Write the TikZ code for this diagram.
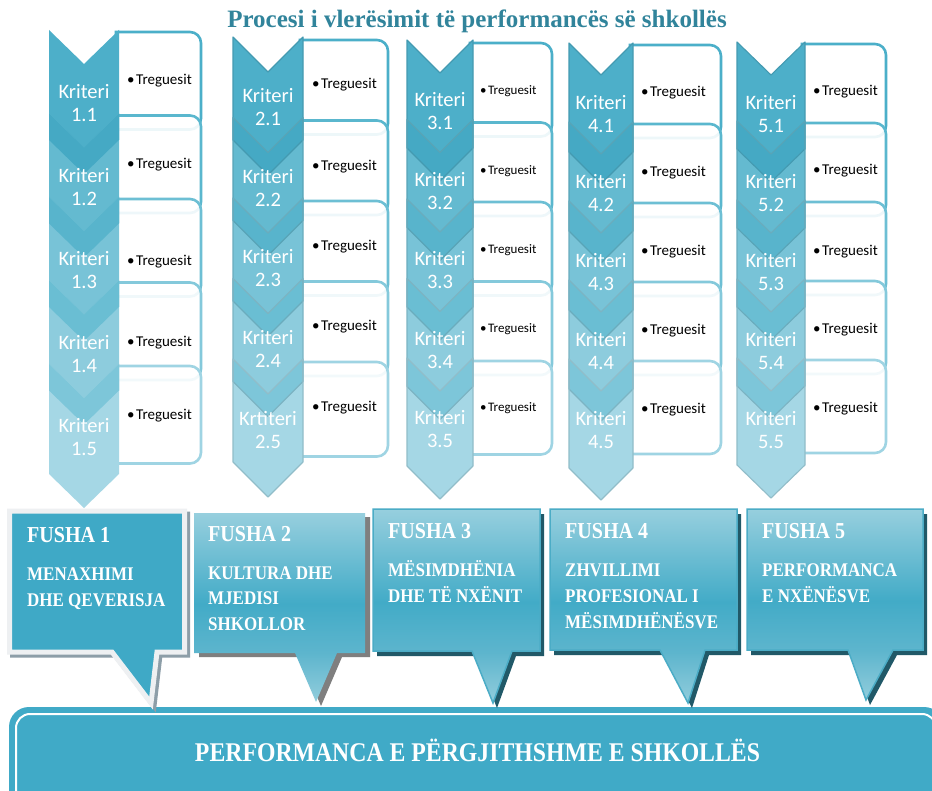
\documentclass[tikz,border=0pt]{standalone}
\usepackage{fontspec}
\setmainfont{Liberation Serif}
\newfontfamily\capsf{Liberation Serif}[FakeStretch=0.88]
\newfontfamily\calib{Carlito}
\definecolor{ch1}{HTML}{4DAFC9}
\definecolor{ch2}{HTML}{64BAD0}
\definecolor{ch3}{HTML}{78C3D7}
\definecolor{ch4}{HTML}{8DCCDD}
\definecolor{ch5}{HTML}{A5D7E5}
\definecolor{bd1}{HTML}{45A9C4}
\definecolor{bd2}{HTML}{58B4CC}
\definecolor{bd3}{HTML}{6ABED3}
\definecolor{bd4}{HTML}{7DC6D9}
\definecolor{bx1}{HTML}{4BAFC9}
\definecolor{bx2}{HTML}{5AB7CE}
\definecolor{bx3}{HTML}{6DBFD4}
\definecolor{bx4}{HTML}{84C9DB}
\definecolor{bx5}{HTML}{9FD4E3}
\definecolor{titlec}{HTML}{31849B}
\definecolor{barc}{HTML}{40AAC7}
\definecolor{fonefill}{HTML}{3FA9C6}
\definecolor{foneedge}{HTML}{EEF0F2}
\definecolor{foneshadow}{HTML}{8D9EA8}
\definecolor{ftwoshadow}{HTML}{7F7F7F}
\definecolor{fdshadow}{HTML}{215968}
\definecolor{fedge}{HTML}{4BACC6}
\definecolor{fshB}{HTML}{92CDDC}
\definecolor{fshL}{HTML}{5DB5CD}
\definecolor{fshM}{HTML}{42ABC7}
\definecolor{fshT}{HTML}{97CFDE}
\pgfdeclareverticalshading{fsh}{100bp}{color(0bp)=(fshB); color(25bp)=(fshB); color(38bp)=(fshL); color(51bp)=(fshM); color(75bp)=(fshT); color(100bp)=(fshT)}
\tikzset{
  kritext/.style={text=white, font=\calib\fontsize{20.5}{23}\selectfont, align=center, inner sep=0},
  tregtext/.style={text=black, anchor=west, inner sep=0},
  fushahead/.style={text=white, anchor=base west, inner sep=0, font=\capsf\bfseries\fontsize{22.8}{26}\selectfont},
  fushabody/.style={text=white, anchor=base west, inner sep=0, font=\capsf\bfseries\fontsize{19.3}{22}\selectfont},
  boxline/.style={line width=2.6, fill=white, fill opacity=0.9},
}
\newcommand\kcol[1]{%
  \pgfmathsetmacro\XC{\XL+\CW/2}%
  \pgfmathsetmacro\XB{\XL+\CW-3}%
  \pgfmathsetmacro\XE{\XL+\CW}%
  \pgfmathsetmacro\xa{\XR-11}%
  \foreach \i in {1,...,5}{%
    \pgfmathsetmacro\btop{\BT+(\i-1)*\CP}%
    \pgfmathsetmacro\bbot{\btop+\CP+14}%
    \pgfmathsetmacro\yb{\bbot-11}%
    \draw[boxline, draw=bx\i] (\XB,\btop) -- (\xa,\btop) arc[start angle=-90,end angle=0,radius=11] -- (\XR,\yb) arc[start angle=0,end angle=90,radius=11] -- (\XB,\bbot) -- cycle;
  }%
  \foreach \i in {1,...,5}{%
    \pgfmathsetmacro\ctop{\CT+(\i-1)*\CP}%
    \fill[ch\i] (\XL,\ctop) -- (\XC,\ctop+\CD) -- (\XE,\ctop) -- (\XE,\ctop+\CH) -- (\XC,\ctop+\CH+\CD) -- (\XL,\ctop+\CH) -- cycle;
  }%
  \foreach \i in {1,...,4}{%
    \pgfmathsetmacro\ctop{\CT+(\i-1)*\CP}%
    \fill[bd\i] (\XL,\ctop+\CP) -- (\XC,\ctop+\CP+\CD) -- (\XE,\ctop+\CP) -- (\XE,\ctop+\CH) -- (\XC,\ctop+\CH+\CD) -- (\XL,\ctop+\CH) -- cycle;
  }%
  \ifnum#1>1
  \foreach \i in {1,...,5}{%
    \pgfmathsetmacro\ctop{\CT+(\i-1)*\CP}%
    \draw[ch\i!88!black, line width=1.1, line join=round] (\XL,\ctop) -- (\XC,\ctop+\CD) -- (\XE,\ctop) -- (\XE,\ctop+\CH) -- (\XC,\ctop+\CH+\CD) -- (\XL,\ctop+\CH) -- cycle;
  }%
  \fi
  \foreach \i in {1,...,5}{%
    \pgfmathsetmacro\ky{\CT+(\i-1)*\CP+\KO}%
    \ifnum#1\i=25 \def\kword{Krtiteri}\else\def\kword{Kriteri}\fi
    \node[kritext] (k#1\i) at (\XC,\ky) {\kword\\#1.\i};
  }%
  \foreach \i/\ty in \TY {%
    \node[tregtext, font=\calib\fontsize{\TS}{\TS}\selectfont] (t#1\i) at (\TX,\ty) {•\kern1.5pt Treguesit};
  }%
}
\begin{document}
\begin{tikzpicture}[x=1pt,y=-1pt]
\useasboundingbox (0,0) rectangle (932,791);
\clip (0,0) rectangle (932,791);
\fill[white] (0,0) rectangle (932,791);
% title
\node[anchor=base, inner sep=0, text=titlec, font=\bfseries\fontsize{25}{28}\selectfont] (title) at (477,28) {Procesi i vlerësimit të performancës së shkollës};
% columns
\def\XL{49}\def\CW{70}\def\CT{30}\def\CP{83.5}\def\CH{110}\def\CD{34}\def\XR{201}\def\BT{32}\def\TX{127}\def\TS{15}\def\KO{73.5}\def\TY{1/81,2/165,3/262,4/343,5/416}
\kcol{1}
\def\XL{233}\def\CW{70}\def\CT{37}\def\CP{80.5}\def\CH{103}\def\CD{35}\def\XR{388}\def\BT{40}\def\TX{312}\def\TS{15}\def\KO{70.5}\def\TY{1/85,2/167,3/247,4/327,5/408}
\kcol{2}
\def\XL{407}\def\CW{66}\def\CT{40}\def\CP{79.5}\def\CH{108}\def\CD{33}\def\XR{552}\def\BT{43}\def\TX{480}\def\TS{13}\def\KO{71.5}\def\TY{1/91,2/171,3/250,4/329,5/408}
\kcol{3}
\def\XL{569}\def\CW{64}\def\CT{43}\def\CP{79}\def\CH{109}\def\CD{32}\def\XR{721}\def\BT{45}\def\TX{641}\def\TS{15}\def\KO{71}\def\TY{1/93,2/173,3/252,4/331,5/410}
\kcol{4}
\def\XL{737}\def\CW{68}\def\CT{42}\def\CP{79}\def\CH{107}\def\CD{33}\def\XR{886}\def\BT{44}\def\TX{813}\def\TS{15}\def\KO{72}\def\TY{1/92,2/171,3/252,4/330,5/409}
\kcol{5}
% bottom bar
\fill[barc, rounded corners=20] (9,707) rectangle (944,830);
\draw[white, line width=2, rounded corners=14] (16,714) rectangle (936,822);
\node[anchor=base, inner sep=0, text=white, font=\capsf\bfseries\fontsize{27}{30}\selectfont] (overall) at (477.5,761) {PERFORMANCA E PËRGJITHSHME E SHKOLLËS};
% fusha callouts
\def\fone{(9.5,511) -- (184.5,511) -- (184.5,652) -- (157,652) -- (151,703) -- (112,652) -- (9.5,652) -- cycle}
\def\ftwo{(194,513) -- (365,513) -- (365,653) -- (337,653) -- (316,702) -- (295,653) -- (194,653) -- cycle}
\def\fthree{(373,509) -- (540,509) -- (540,651) -- (512,651) -- (493,703) -- (472,651) -- (373,651) -- cycle}
\def\ffour{(550,509) -- (737,509) -- (737,650) -- (705,650) -- (688,703) -- (660,650) -- (550,650) -- cycle}
\def\ffive{(747,509) -- (923,509) -- (923,650) -- (893,650) -- (866,700) -- (848,650) -- (747,650) -- cycle}
\draw[foneshadow, fill=foneshadow, line width=5, shift={(3,3)}] \fone;
\draw[foneedge, fill=fonefill, line width=5] \fone;
\fill[ftwoshadow, shift={(5,4)}] \ftwo;
\shade[shading=fsh] \ftwo;
\fill[fdshadow, shift={(4,5)}] \fthree;
\shadedraw[shading=fsh, draw=fedge, line width=1.5] \fthree;
\fill[fdshadow, shift={(4,5)}] \ffour;
\shadedraw[shading=fsh, draw=fedge, line width=1.5] \ffour;
\fill[fdshadow, shift={(4,5)}] \ffive;
\shadedraw[shading=fsh, draw=fedge, line width=1.5] \ffive;
% fusha texts
\node[fushahead] (f1h) at (27,542) {FUSHA 1};
\node[fushabody] (f1a) at (27,580) {MENAXHIMI};
\node[fushabody] (f1b) at (27,606.5) {DHE QEVERISJA};
\node[fushahead] (f2h) at (208,541.5) {FUSHA 2};
\node[fushabody] (f2a) at (208,579.3) {KULTURA DHE};
\node[fushabody] (f2b) at (208,604.5) {MJEDISI};
\node[fushabody] (f2c) at (208,630) {SHKOLLOR};
\node[fushahead] (f3h) at (388,538.3) {FUSHA 3};
\node[fushabody] (f3a) at (388,576.7) {MËSIMDHËNIA};
\node[fushabody] (f3b) at (388,602.7) {DHE TË NXËNIT};
\node[fushahead] (f4h) at (565,538.3) {FUSHA 4};
\node[fushabody] (f4a) at (565,576.7) {ZHVILLIMI};
\node[fushabody] (f4b) at (565,602.7) {PROFESIONAL I};
\node[fushabody] (f4c) at (565,628.3) {MËSIMDHËNËSVE};
\node[fushahead] (f5h) at (762,538.3) {FUSHA 5};
\node[fushabody] (f5a) at (762,576.7) {PERFORMANCA};
\node[fushabody] (f5b) at (762,602.7) {E NXËNËSVE};
\end{tikzpicture}
\end{document}
